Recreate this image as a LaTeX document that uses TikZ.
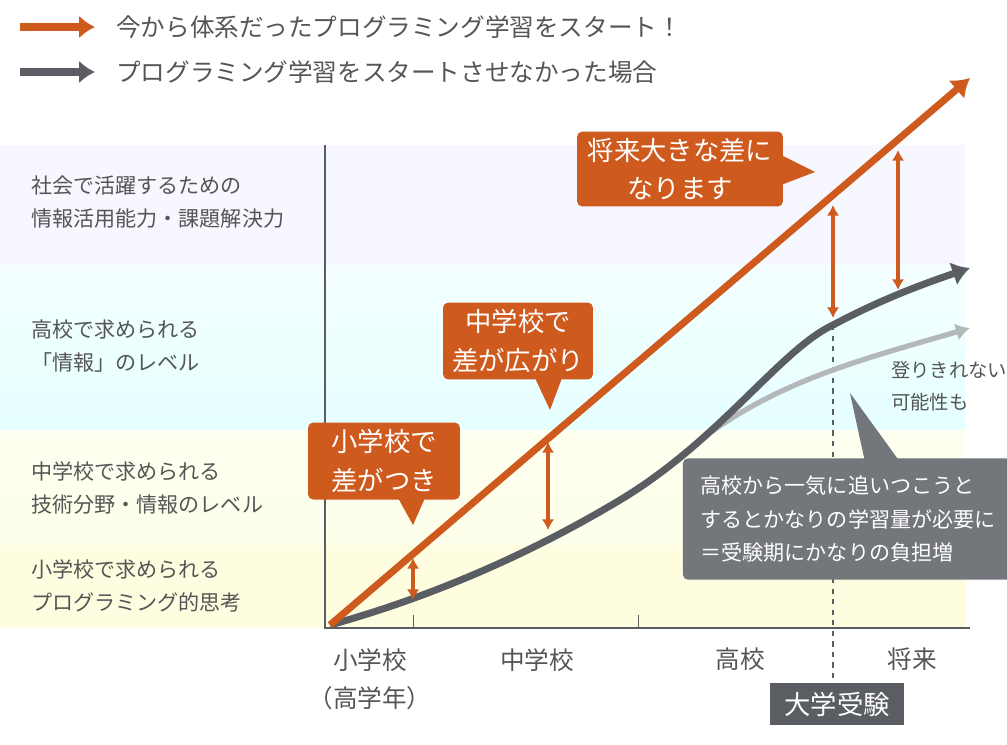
\documentclass[tikz,border=0pt]{standalone}
\usepackage{fontspec}
\setmainfont{Noto Sans CJK JP}
\usetikzlibrary{arrows.meta}
\definecolor{orng}{HTML}{CF5A1E}
\definecolor{dgray}{HTML}{5A5E63}
\definecolor{lgray}{HTML}{B4B8BB}
\definecolor{txt}{HTML}{555555}
\tikzset{
  lbl/.style={anchor=west,align=left,text=txt,font=\fontsize{12}{19}\selectfont},
  obox/.style={fill=orng,text=white,rounded corners=3pt,align=center,font=\fontsize{15}{22}\selectfont},
  gbox/.style={fill=dgray!85,text=white,rounded corners=3pt,align=left,font=\fontsize{12}{19}\selectfont},
  dbl/.style={orng,line width=2pt,{Latex[length=6pt,width=7pt]}-{Latex[length=6pt,width=7pt]}},
}
\begin{document}
\begin{tikzpicture}[x=0.02cm,y=-0.02cm]
		\useasboundingbox (0,0) rectangle (1007,744);
		%bands
		\fill[blue!3] (0,145) rectangle (965,265);
		\fill[top color=cyan!4,bottom color=cyan!10] (0,265) rectangle (965,430);
		\fill[top color=green!5!yellow!6,bottom color=green!10!yellow!8] (0,430) rectangle (965,545);
		\fill[yellow!12] (0,545) rectangle (965,628);
		%legend
		\draw[orng,line width=4pt,-{Latex[length=9pt,width=13pt]}] (20,27) -- (95,27);
		\draw[dgray,line width=4pt,-{Latex[length=9pt,width=13pt]}] (20,72) -- (95,72);
		\node[lbl,font=\fontsize{14}{18}\selectfont] (leg1) at (110,27) {今から体系だったプログラミング学習をスタート！};
		\node[lbl,font=\fontsize{14}{18}\selectfont] (leg2) at (110,72) {プログラミング学習をスタートさせなかった場合};
		%levels
		\node[lbl] (lv1) at (25,202) {社会で活躍するための\\情報活用能力・課題解決力};
		\node[lbl] (lv2) at (25,346) {高校で求められる\\「情報」のレベル};
		\node[lbl] (lv3) at (25,488) {中学校で求められる\\技術分野・情報のレベル};
		\node[lbl] (lv4) at (25,586) {小学校で求められる\\プログラミング的思考};
		%axes
		\draw[dgray,line width=1pt] (325,145) -- (325,628) -- (970,628);
		\draw[dgray] (413,615) -- (413,628);
		\draw[dgray] (638,615) -- (638,628);
		\draw[dgray,dashed,line width=1pt] (833,325) -- (833,683);
		\node[lbl,anchor=north,align=center,font=\fontsize{14}{22}\selectfont] (ax1) at (370,642) {小学校\\（高学年）};
		\node[lbl,anchor=north,font=\fontsize{14}{22}\selectfont] (ax2) at (537,642) {中学校};
		\node[lbl,anchor=north,font=\fontsize{14}{22}\selectfont] (ax3) at (740,642) {高校};
		\node[lbl,anchor=north,font=\fontsize{14}{22}\selectfont] (ax4) at (912,642) {将来};
		\node[fill=dgray,text=white,minimum width=135\pgflinewidth*0+2.7cm,minimum height=0.84cm,font=\fontsize{15}{18}\selectfont] (exam) at (837,704) {大学受験};
		%curves
		\draw[lgray,line width=3pt,-{Latex[length=8pt,width=10pt]}] (700,440) .. controls (780,380) and (860,360) .. (970,328);
		\draw[dgray,line width=4pt,-{Latex[length=10pt,width=14pt]}] (330,625) .. controls (420,600) and (520,560) .. (620,500) .. controls (720,440) and (780,350) .. (833,325) .. controls (880,300) and (920,285) .. (970,268);
		\draw[orng,line width=4pt,-{Latex[length=10pt,width=14pt]}] (330,625) -- (970,78);
		%gaps
		\draw[dbl] (413,558) -- (413,600);
		\draw[dbl] (548,442) -- (548,530);
		\draw[dbl] (833,205) -- (833,318);
		\draw[dbl] (898,150) -- (898,290);
		%callouts
		\node[obox,minimum width=3.04cm,minimum height=1.54cm] (c1) at (384,461) {小学校で\\差がつき};
		\fill[orng] (398,498) -- (413,525) -- (425,498) -- cycle;
		\node[obox,minimum width=3cm,minimum height=1.54cm] (c2) at (518,341) {中学校で\\差が広がり};
		\fill[orng] (535,378) -- (550,410) -- (562,378) -- cycle;
		\node[obox,minimum width=4.12cm,minimum height=1.5cm] (c3) at (680,169) {将来大きな差に\\なります};
		\fill[orng] (781,155) -- (815,172) -- (781,185) -- cycle;
		\node[gbox,minimum width=6.14cm,minimum height=2.36cm,inner sep=10pt] (c4) at (848,519) {高校から一気に追いつこうと\\するとかなりの学習量が必要に\\＝受験期にかなりの負担増};
		\fill[dgray!85] (850,393) -- (865,462) -- (900,462) -- cycle;
		\node[lbl,font=\fontsize{11}{18}\selectfont] (note) at (885,386) {登りきれない\\可能性も};
\end{tikzpicture}
\end{document}
